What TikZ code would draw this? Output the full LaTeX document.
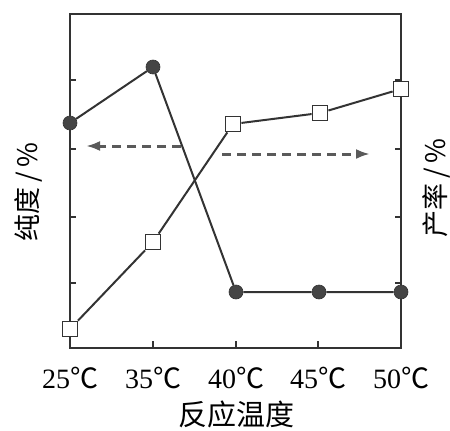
\documentclass[tikz,border=0pt]{standalone}
\usepackage{fontspec}
\setmainfont{Liberation Serif}
\newfontfamily\cjk{Noto Sans CJK SC}
\usetikzlibrary{arrows.meta}
\definecolor{ink}{HTML}{333333}
\definecolor{dash}{HTML}{5A5A5A}
\definecolor{dotc}{HTML}{454545}
\tikzset{
  frame/.style={draw=ink, line width=2.6pt},
  tickmark/.style={draw=ink, line width=1.6pt},
  series/.style={draw=ink, line width=2pt},
  purity/.style={circle, fill=dotc, draw=ink, line width=0.6pt, minimum size=14pt, inner sep=0pt},
  yieldpt/.style={rectangle, fill=white, draw=ink, line width=1.8pt, minimum size=15pt, inner sep=0pt},
  hint/.style={draw=dash, line width=3pt, dash pattern=on 9pt off 6pt, -{Latex[length=14pt,width=10pt]}},
  ticklbl/.style={font=\fontsize{28}{30}\selectfont, inner sep=0pt},
  axislbl/.style={font=\fontsize{27}{29}\selectfont\cjk, inner sep=0pt, rotate=90}
}
\begin{document}
\begin{tikzpicture}[x=1pt,y=-1pt]
\useasboundingbox (0,0) rectangle (450,431);
% frame
\draw[frame] (70,14) rectangle (401,348);
% side ticks
\foreach \yy in {80,149,217,283} {
  \draw[tickmark] (70,\yy) -- (76,\yy);
  \draw[tickmark] (401,\yy) -- (395,\yy);
}
% bottom ticks
\foreach \xx in {153,236,318} {
  \draw[tickmark] (\xx,348) -- (\xx,341);
}
% tick labels
\node[ticklbl] (t25) at (70,378) {25{\cjk ℃}};
\node[ticklbl] (t35) at (153,378) {35{\cjk ℃}};
\node[ticklbl] (t40) at (236,378) {40{\cjk ℃}};
\node[ticklbl] (t45) at (318,378) {45{\cjk ℃}};
\node[ticklbl] (t50) at (401,378) {50{\cjk ℃}};
\node[font=\fontsize{29}{31}\selectfont\cjk, inner sep=0pt] (xlab) at (236,414) {反应温度};
\node[axislbl] (ylab) at (29,192) {纯度\,/\,\%};
\node[axislbl] (y2lab) at (436,188) {产率\,/\,\%};
% dashed hint arrows
\coordinate (la0) at (181,146);
\coordinate (la1) at (86,146);
\coordinate (ra0) at (222,154);
\coordinate (ra1) at (370,154);
\draw[hint] (la0) -- (la1);
\draw[hint] (ra0) -- (ra1);
% purity points
\node[purity] (p25) at (70,123) {};
\node[purity] (p35) at (153,67) {};
\node[purity] (p40) at (236,292) {};
\node[purity] (p45) at (319,292) {};
\node[purity] (p50) at (401,292) {};
% yield points
\node[yieldpt] (y25) at (70,329) {};
\node[yieldpt] (y35) at (153,242) {};
\node[yieldpt] (y40) at (233,124) {};
\node[yieldpt] (y45) at (320,113) {};
\node[yieldpt] (y50) at (401,89) {};
% series lines
\draw[series] (p25) -- (p35) -- (p40) -- (p45) -- (p50);
\draw[series] (y25) -- (y35) -- (y40) -- (y45) -- (y50);
\end{tikzpicture}
\end{document}
